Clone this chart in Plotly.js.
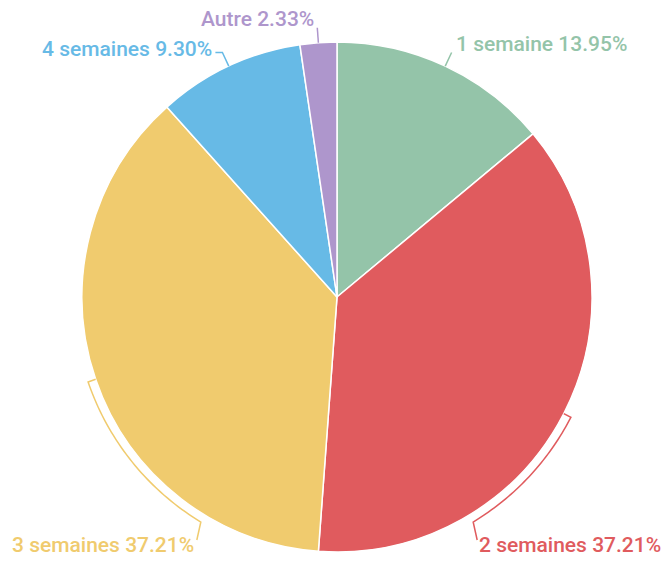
<!DOCTYPE html>
<html>
<head>
<meta charset="utf-8">
<script src="https://cdn.plot.ly/plotly-3.0.1.min.js"></script>
<style>html,body{margin:0;padding:0;background:#fff}#chart{width:665px;height:563px}</style>
</head>
<body>
<div id="chart"></div>
<script>
const labels = ['1 semaine', '2 semaines', '3 semaines', '4 semaines', 'Autre'];
const values = [6, 16, 16, 4, 1];
const colors = ['#94C4A9', '#E05B5E', '#F0CB6E', '#67BAE6', '#AE96CC'];

const W = 665, H = 563;
const cx = 337, cy = 297, R = 255;
const total = values.reduce((a, b) => a + b, 0);

function fx(px) { return px / W; }
function fy(py) { return 1 - py / H; }
function pt(r, th) { return [cx + r * Math.sin(th), cy - r * Math.cos(th)]; }

const annotations = [];
const shapes = [];
let cum = 0;
values.forEach((v, i) => {
  const s = cum / total, e = (cum + v) / total;
  cum += v;
  const frac = v / total;
  const th = (s + e) / 2 * 2 * Math.PI;
  const col = colors[i];
  const txt = labels[i] + ' ' + (frac * 100).toFixed(2) + '%';
  const right = Math.sin(th) > 0;
  let pts = [];
  let ax, ay, xa;
  if (frac > 0.3) {
    const Rb = R + 8;
    const base = Math.acos(-225 / Rb);
    const thEnd = right ? base : 2 * Math.PI - base;
    pts.push(pt(R, th));
    const n = 40;
    for (let k = 0; k <= n; k++) {
      pts.push(pt(Rb, th + (thEnd - th) * k / n));
    }
    const last = pts[pts.length - 1];
    const lead = [last[0] + (right ? 4 : -4), last[1] + 18];
    pts.push(lead);
    ax = lead[0] + (right ? 0 : -1); ay = lead[1] + 5;
    xa = right ? 'left' : 'right';
  } else {
    const p0 = pt(R, th), p1 = pt(R + 15, th);
    pts.push(p0, p1);
    let end = p1;
    let hook = false;
    if (!right && Math.abs(Math.sin(th)) > 0.2) {
      end = [p1[0] - 7, p1[1]];
      pts.push(end);
      hook = true;
    }
    ax = end[0] + (right ? 2 : -1); ay = end[1] - (hook ? 4 : 9);
    xa = right ? 'left' : 'right';
  }
  shapes.push({
    type: 'path', xref: 'paper', yref: 'paper',
    path: 'M' + pts.map(p => fx(p[0]) + ',' + fy(p[1])).join(' L'),
    line: {color: col, width: 1.5}
  });
  annotations.push({
    xref: 'paper', yref: 'paper', x: fx(ax), y: fy(ay),
    xanchor: xa, yanchor: 'middle', showarrow: false, text: txt,
    font: {family: 'Roboto', size: 21, weight: 500, color: col}
  });
});

const data = [{
  type: 'pie',
  labels: labels,
  values: values,
  sort: false,
  direction: 'clockwise',
  rotation: 0,
  textinfo: 'none',
  hoverinfo: 'none',
  marker: {colors: colors, line: {color: '#ffffff', width: 1.5}},
  domain: {x: [fx(cx - R), fx(cx + R)], y: [fy(cy + R), fy(cy - R)]}
}];

const layout = {
  width: W, height: H,
  margin: {l: 0, r: 0, t: 0, b: 0},
  showlegend: false,
  paper_bgcolor: '#ffffff',
  annotations: annotations,
  shapes: shapes
};

Plotly.newPlot('chart', data, layout, {displayModeBar: false, staticPlot: true});
</script>
</body>
</html>
